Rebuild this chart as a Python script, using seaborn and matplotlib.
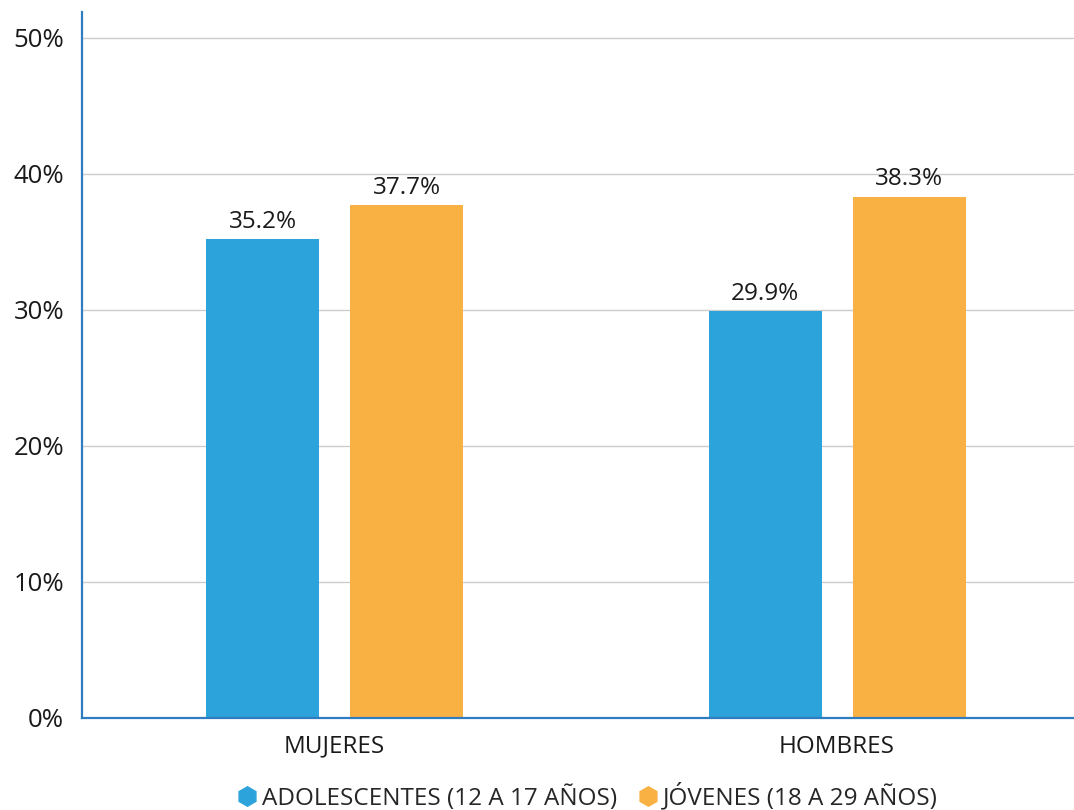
import matplotlib
matplotlib.use("Agg")
import matplotlib.pyplot as plt
from matplotlib.lines import Line2D
import seaborn as sns
import pandas as pd

categories = ["MUJERES", "HOMBRES"]
series_names = ["ADOLESCENTES (12 A 17 AÑOS)", "JÓVENES (18 A 29 AÑOS)"]
adolescentes = [35.2, 29.9]
jovenes = [37.7, 38.3]
y_ticks = [0, 10, 20, 30, 40, 50]
colors = ["#2DA3DB", "#F9B144"]

df = pd.DataFrame({
    "grupo": categories * 2,
    "serie": [series_names[0]] * 2 + [series_names[1]] * 2,
    "valor": adolescentes + jovenes,
})

sns.set_theme(style="white")
plt.rcParams["font.family"] = ["Open Sans", "DejaVu Sans"]

fig = plt.figure(figsize=(10.74, 8.1), dpi=100)
ax = fig.add_axes([0.0764, 0.1136, 0.9236, 0.8716])

sns.barplot(data=df, x="grupo", y="valor", hue="serie", order=categories,
            hue_order=series_names, palette=colors, width=0.573, gap=0.215,
            saturation=1, linewidth=0, ax=ax, legend=False)

for container in ax.containers:
    ax.bar_label(container, labels=[f"{v.get_height():.1f}%" for v in container],
                 padding=4, fontsize=17.5, color="#1a1a1a")

ax.set_xlim(-0.5025, 1.4716)
ax.set_ylim(0, 51.9)
ax.set_yticks(y_ticks)
ax.set_yticklabels([f"{t}%" for t in y_ticks], fontsize=18.5, color="#1a1a1a")
ax.tick_params(axis="x", labelsize=17.5, colors="#1a1a1a", pad=12, length=0)
ax.tick_params(axis="y", pad=13, length=0)
ax.set_xlabel("")
ax.set_ylabel("")
ax.yaxis.grid(True, color="#cccccc", linewidth=1)
ax.set_axisbelow(True)

for side in ["top", "right"]:
    ax.spines[side].set_visible(False)
for side in ["left", "bottom"]:
    ax.spines[side].set_color("#2F7DC0")
    ax.spines[side].set_linewidth(1.6)

handles = [Line2D([], [], marker="h", linestyle="", markersize=14,
                  markerfacecolor=c, markeredgecolor=c) for c in colors]
fig.legend(handles, series_names, loc="lower center", ncol=2,
           bbox_to_anchor=(0.546, -0.028), frameon=False, fontsize=17.5,
           handletextpad=0.1, columnspacing=0.8, handlelength=1.0)

fig.savefig("out.png", dpi=100)
